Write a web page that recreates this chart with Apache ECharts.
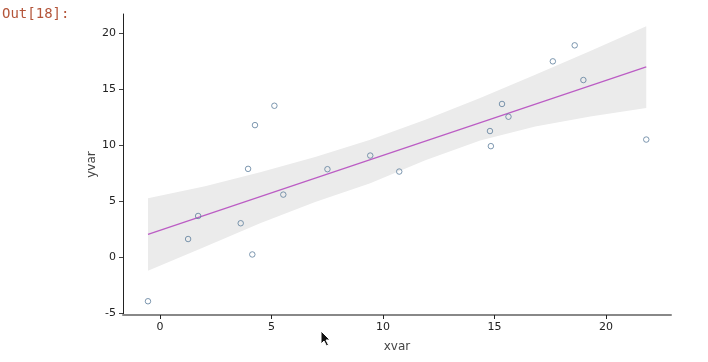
<!DOCTYPE html>
<html>
<head>
<meta charset="utf-8">
<script src="https://cdn.jsdelivr.net/npm/echarts@6/dist/echarts.min.js"></script>
<style>
html,body{margin:0;padding:0;background:#fff;}
#chart{width:708px;height:362px;}
</style>
</head>
<body>
<div id="chart"></div>
<script>
// Scatter data (xvar, yvar)
const xvar = [-0.54, 1.26, 1.71, 3.62, 4.14, 3.95, 4.26, 5.13, 5.53, 7.51, 9.43, 10.73, 14.80, 14.84, 15.34, 15.63, 17.62, 18.60, 18.99, 21.81];
const yvar = [-3.97, 1.59, 3.65, 3.00, 0.21, 7.86, 11.77, 13.50, 5.56, 7.83, 9.05, 7.62, 11.24, 9.89, 13.66, 12.52, 17.47, 18.90, 15.80, 10.48];

// Regression line endpoints
const fitX = [-0.54, 21.81];
const fitY = [2.00, 16.97];

// Confidence band
const bandX     = [-0.54, 2.02, 4.49, 6.96, 9.43, 11.90, 14.36, 16.83, 19.30, 21.81];
const bandUpper = [5.23, 6.30, 7.55, 8.92, 10.46, 12.25, 14.19, 16.28, 18.40, 20.60];
const bandLower = [-1.25, 0.90, 3.00, 4.90, 6.58, 8.62, 10.40, 11.65, 12.54, 13.30];

// Tick labels
const xTicks = [0, 5, 10, 15, 20];
const yTicks = [-5, 0, 5, 10, 15, 20];

const scatterData = xvar.map((x, i) => [x, yvar[i]]);
const fitData = fitX.map((x, i) => [x, fitY[i]]);
const bandData = bandX.map((x, i) => [x, bandLower[i], bandUpper[i]]);

const chart = echarts.init(document.getElementById('chart'), null, {renderer: 'canvas'});
const font = 'DejaVu Sans';

chart.setOption({
  animation: false,
  backgroundColor: '#ffffff',
  grid: {left: 123, right: 37, top: 14, bottom: 47, containLabel: false},
  graphic: [
    {type: 'text', left: 2, top: 7,
     style: {text: 'Out[18]:', fill: '#b4553a', font: '14px "DejaVu Sans Mono", monospace'}},
    {type: 'polygon', z: 100,
     shape: {points: [[321,331],[321,344],[324,341],[326.5,346],[328.5,345],[326,340],[330,340]]},
     style: {fill: '#111', stroke: '#fff', lineWidth: 1}}
  ],
  xAxis: {
    type: 'value', min: -1.66, max: 22.92,
    name: 'xvar', nameLocation: 'middle', nameGap: 26, nameMoveOverlap: false,
    nameTextStyle: {color: '#444', fontFamily: font, fontSize: 12},
    axisLine: {onZero: false, lineStyle: {color: '#888', width: 2}},
    axisTick: {show: true, length: 4, customValues: xTicks, lineStyle: {color: '#222', width: 1}},
    axisLabel: {customValues: xTicks, color: '#222', fontFamily: font, fontSize: 11, margin: 7},
    splitLine: {show: false}
  },
  yAxis: {
    type: 'value', min: -5.2, max: 21.7,
    name: 'yvar', nameLocation: 'middle', nameGap: 25, nameMoveOverlap: false,
    nameTextStyle: {color: '#444', fontFamily: font, fontSize: 12},
    axisLine: {show: true, onZero: false, lineStyle: {color: '#222', width: 1}},
    axisTick: {show: true, length: 4, customValues: yTicks, lineStyle: {color: '#444', width: 1}},
    axisLabel: {customValues: yTicks, color: '#222', fontFamily: font, fontSize: 11, margin: 7},
    splitLine: {show: false}
  },
  series: [
    {
      type: 'custom',
      data: bandData,
      z: 1,
      renderItem: function (params, api) {
        if (params.dataIndex !== 0) return null;
        const up = [], lo = [];
        for (let i = 0; i < bandData.length; i++) {
          up.push(api.coord([bandData[i][0], bandData[i][2]]));
          lo.push(api.coord([bandData[i][0], bandData[i][1]]));
        }
        const pts = up.concat(lo.reverse());
        return {type: 'polygon', shape: {points: pts}, style: {fill: '#ebebeb', stroke: null}};
      },
      encode: {x: 0, y: [1, 2]},
      silent: true
    },
    {
      type: 'line', data: fitData, z: 3, symbol: 'none',
      lineStyle: {color: '#bb5cc4', width: 1.2}
    },
    {
      type: 'scatter', data: scatterData, z: 4,
      symbol: 'circle', symbolSize: 5.5,
      itemStyle: {color: 'rgba(255,255,255,0)', borderColor: '#5e7e9c', borderWidth: 1}
    }
  ]
});
</script>
</body>
</html>
